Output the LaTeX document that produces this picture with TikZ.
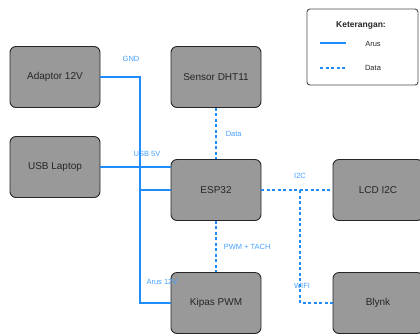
\documentclass[tikz,border=0pt]{standalone}
\usepackage{fontspec}
\setmainfont{Liberation Sans}
\usepackage{tikz}

\xdefinecolor{arus}{RGB}{30, 140, 250}
\xdefinecolor{label}{RGB}{70, 160, 255}
\xdefinecolor{boxfill}{RGB}{153, 153, 153}

\tikzset{
    block/.style={rectangle, draw=black!85, fill=boxfill, line width=0.9pt, rounded corners=6pt,
        minimum width=90pt, minimum height=61pt, text=black!85, font=\fontsize{10}{12}\selectfont},
    arusline/.style={draw=arus, line width=1.5pt},
    dataline/.style={draw=arus, line width=1.5pt, dash pattern=on 3pt off 2.5pt},
    lbl/.style={text=label, font=\fontsize{7.5}{9}\selectfont, inner sep=0pt}
}

\begin{document}
\begin{tikzpicture}[x=1pt, y=-1pt]
            \useasboundingbox (0, 0) rectangle (420, 333);
            % Draw the blocks
            \node[block] (Adaptor) at (55, 77) {Adaptor 12V};
            \node[block] (USB) at (55, 167) {USB Laptop};
            \node[block] (DHT) at (216, 77) {Sensor DHT11};
            \node[block] (ESP) at (216, 190) {ESP32};
            \node[block] (LCD) at (378, 190) {LCD I2C};
            \node[block] (Kipas) at (216, 303) {Kipas PWM};
            \node[block] (Blynk) at (378, 303) {Blynk};

            % Power lines
            \coordinate (bus) at (140, 77);
            \draw[arusline] (Adaptor.east) -- (bus) |- (Kipas.west);
            \draw[arusline] (bus |- ESP.west) -- (ESP.west);
            \draw[arusline] (USB.east) -- (USB.east -| ESP.west);
            \node[lbl] at (131, 59) {GND};
            \node[lbl] at (147, 154) {USB 5V};
            \node[lbl] at (162, 282) {Arus 12V};

            % Data lines
            \draw[dataline] (DHT.south) -- (ESP.north) node[lbl, midway, right=9pt] {Data};
            \draw[dataline] (ESP.south) -- (Kipas.north) node[lbl, midway, right=7pt] {PWM + TACH};
            \draw[dataline] (ESP.east) -- (LCD.west);
            \coordinate (wifi) at (300, 190);
            \draw[dataline] (wifi) |- (Blynk.west);
            \node[lbl] at (300, 176) {I2C};
            \node[lbl] at (302, 286) {WIFI};

            % Legend
            \node[draw=black!70, line width=0.9pt, rounded corners=3pt, minimum width=111pt, minimum height=76pt] (Legend) at (362.5, 47) {};
            \node[font=\fontsize{8.5}{10}\selectfont\bfseries, text=black!85] (Keterangan) at (361, 25) {Keterangan:};
            \coordinate (arus-a) at (320, 43);
            \coordinate (arus-b) at (346, 43);
            \coordinate (data-a) at (320, 68);
            \coordinate (data-b) at (345, 68);
            \draw[arusline] (arus-a) -- (arus-b);
            \draw[dataline] (data-a) -- (data-b);
            \node[font=\fontsize{7.5}{9}\selectfont, text=black!85] (Arus) at (373, 44) {Arus};
            \node[font=\fontsize{7.5}{9}\selectfont, text=black!85] (Data) at (373, 68) {Data};
\end{tikzpicture}
\end{document}
